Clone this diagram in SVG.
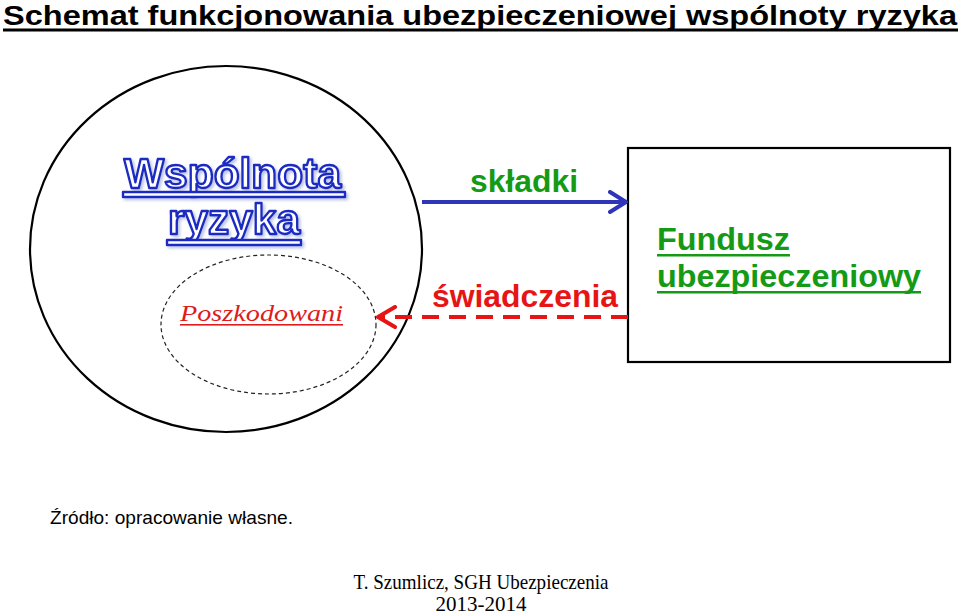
<svg xmlns="http://www.w3.org/2000/svg" width="960" height="615" viewBox="0 0 960 615">
<style>
.b{font-family:"Liberation Sans",Arial,sans-serif;font-weight:bold}
.r{font-family:"Liberation Sans",Arial,sans-serif}
.green{fill:#159a15}
.outl{fill:#ffffff;stroke:#1c2cc4;stroke-width:2.4;stroke-linejoin:round}
</style>
<defs>
<filter id="sh" x="-10%" y="-10%" width="130%" height="140%">
<feGaussianBlur in="SourceAlpha" stdDeviation="1.5"/>
<feOffset dx="2" dy="2" result="o"/>
<feFlood flood-color="#8a9ad0" flood-opacity="0.6"/>
<feComposite in2="o" operator="in"/>
<feMerge><feMergeNode/><feMergeNode in="SourceGraphic"/></feMerge>
</filter>
<marker id="ab" markerUnits="userSpaceOnUse" viewBox="0 0 20 24" refX="18" refY="12" markerWidth="20" markerHeight="24" orient="auto">
<polyline points="2,2 18,12 2,22" fill="none" stroke="#2e35b8" stroke-width="4" stroke-linecap="round" stroke-linejoin="round"/>
</marker>
<marker id="ar" markerUnits="userSpaceOnUse" viewBox="0 0 22 24" refX="20" refY="12" markerWidth="22" markerHeight="24" orient="auto">
<polyline points="3,2 20,12 3,22" fill="none" stroke="#e61414" stroke-width="4" stroke-linecap="round" stroke-linejoin="round"/>
</marker>
</defs>
<rect width="960" height="615" fill="#ffffff"/>
<g id="title">
<text class="b" x="3" y="25" font-size="28.5" fill="#000" textLength="954" lengthAdjust="spacingAndGlyphs">Schemat funkcjonowania ubezpieczeniowej wspólnoty ryzyka</text>
<rect x="3" y="28.5" width="955" height="3" fill="#000"/>
</g>
<g id="wspolnota">
<ellipse cx="226" cy="249" rx="196" ry="183" fill="none" stroke="#000" stroke-width="2.2"/>
<g filter="url(#sh)">
<text class="b outl" x="124" y="188" font-size="43" textLength="217" lengthAdjust="spacingAndGlyphs">Wspólnota</text>
<rect class="outl" x="123" y="192" width="222" height="5"/>
<text class="b outl" x="168" y="234" font-size="43" textLength="132" lengthAdjust="spacingAndGlyphs">ryzyka</text>
<rect class="outl" x="167" y="240" width="134" height="5"/>
</g>
</g>
<g id="poszkodowani">
<ellipse cx="268.5" cy="324.5" rx="107.5" ry="69.5" fill="none" stroke="#222" stroke-width="1.2" stroke-dasharray="4,3"/>
<text x="180" y="321" font-family="'Liberation Serif',serif" font-style="italic" font-size="23" fill="#e01b1b" textLength="163" lengthAdjust="spacingAndGlyphs">Poszkodowani</text>
<rect x="180" y="324" width="163" height="1.6" fill="#e01b1b"/>
</g>
<g id="fundusz">
<rect x="628" y="148" width="322" height="214" fill="#fff" stroke="#000" stroke-width="2.2"/>
<text class="b green" x="657" y="250" font-size="32" textLength="133" lengthAdjust="spacingAndGlyphs">Fundusz</text>
<rect x="657" y="254" width="133" height="2.5" fill="#159a15"/>
<text class="b green" x="657" y="287" font-size="32" textLength="264" lengthAdjust="spacingAndGlyphs">ubezpieczeniowy</text>
<rect x="657" y="291" width="264" height="2.5" fill="#159a15"/>
</g>
<g id="connectors">
<line x1="422" y1="202" x2="626" y2="202" stroke="#2e35b8" stroke-width="4" marker-end="url(#ab)"/>
<text class="b green" x="470" y="192" font-size="32" textLength="108" lengthAdjust="spacingAndGlyphs">składki</text>
<line x1="628" y1="317" x2="378" y2="317" stroke="#e61414" stroke-width="4" stroke-dasharray="17,10" marker-end="url(#ar)"/>
<text class="b" x="432" y="307" font-size="32" fill="#e61414" textLength="186" lengthAdjust="spacingAndGlyphs">świadczenia</text>
</g>
<g id="source">
<text class="r" x="50" y="524" font-size="19" fill="#000" textLength="243" lengthAdjust="spacingAndGlyphs">Źródło: opracowanie własne.</text>
</g>
<g id="footer" font-family="'Liberation Serif','Times New Roman',serif" font-size="21" fill="#000" text-anchor="middle">
<text x="481" y="589" textLength="255" lengthAdjust="spacingAndGlyphs">T. Szumlicz, SGH Ubezpieczenia</text>
<text x="481" y="611">2013-2014</text>
</g>
</svg>
